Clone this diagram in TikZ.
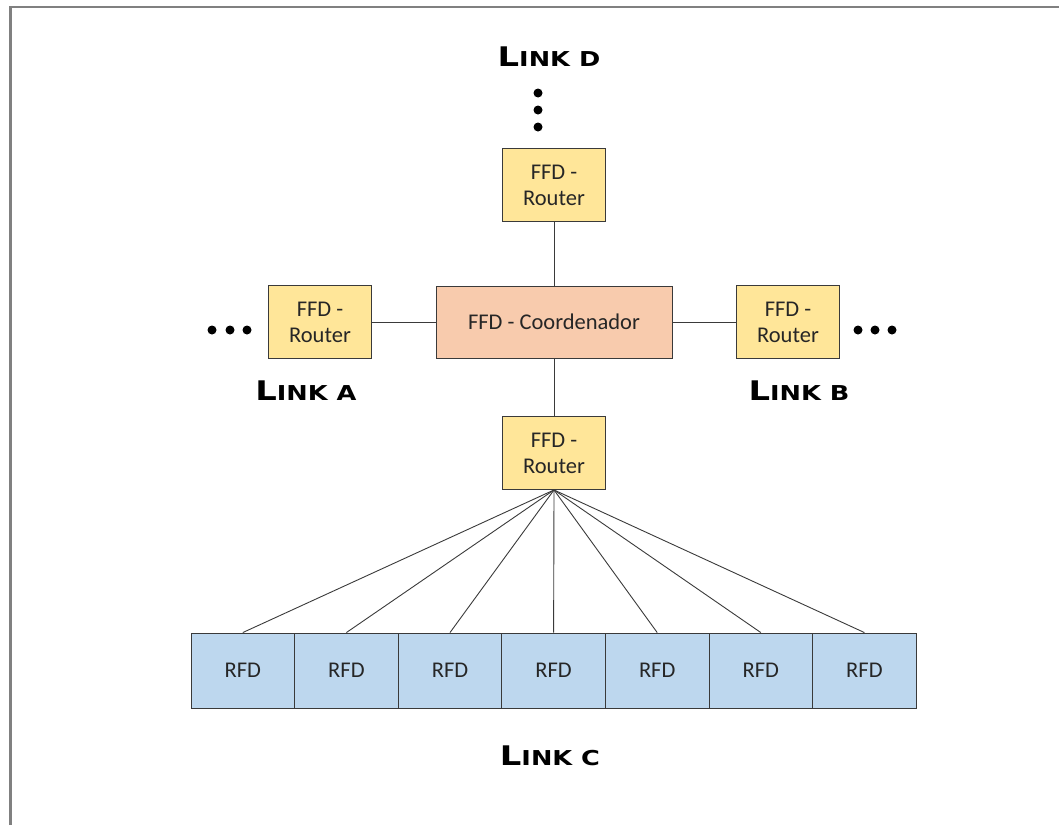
\documentclass[tikz,border=0pt]{standalone}
\usepackage{fontspec}
\setmainfont{Carlito}
\newfontfamily\linkfont[FakeStretch=1.25]{DejaVu Sans}
\definecolor{routerfill}{HTML}{FFE699}
\definecolor{coordfill}{HTML}{F8CBAD}
\definecolor{rfdfill}{HTML}{BDD7EE}
\definecolor{boxline}{HTML}{3A3A3A}
\definecolor{boxtext}{HTML}{262626}
\definecolor{framegray}{HTML}{808080}
\newcommand{\linklabel}[1]{{\linkfont\bfseries{\fontsize{27}{27}\selectfont L}{\fontsize{20.5}{20.5}\selectfont INK #1}}}
\tikzset{
  devbox/.style={draw=boxline,line width=0.9pt,align=center,inner sep=0pt,
    text=boxtext,font=\fontsize{22.5}{26}\selectfont},
  router/.style={devbox,fill=routerfill,minimum width=103,minimum height=73},
  coordbox/.style={devbox,fill=coordfill,minimum width=236,minimum height=72},
  rfdbox/.style={devbox,fill=rfdfill,minimum width=103.6,minimum height=75},
  link/.style={draw=boxline,line width=0.9pt},
}
\begin{document}
\begin{tikzpicture}[x=1pt,y=-1pt]
	\useasboundingbox (0,0) rectangle (1059,825) ;
	\draw[framegray,line width=2.5pt] (10.5,825) -- (10.5,7) -- (1059,7) ;
	% coordinator and routers
	\node[coordbox] (coord) at (554,322) {FFD - Coordenador} ;
	\node[router] (rtop) at (554,185) {FFD -\\Router} ;
	\node[router] (rleft) at (320,322) {FFD -\\Router} ;
	\node[router] (rright) at (788,322) {FFD -\\Router} ;
	\node[router] (rbot) at (554,453) {FFD -\\Router} ;
	\draw[link] (rtop) -- (coord) (rleft) -- (coord) (coord) -- (rright) (coord) -- (rbot) ;
	% end devices
	\foreach \i in {1,...,7}{
		\node[rfdbox] (rfd\i) at ({191+103.6*(\i-0.5)},670.5) {RFD} ;
		\draw[link] (rbot.south) -- (rfd\i.north) ;
	}
	% dots
	\fill (538,93) circle[radius=4.5] (538,110) circle[radius=4.5] (538,127) circle[radius=4.5] ;
	\fill (212,330) circle[radius=4.5] (230,330) circle[radius=4.5] (247,330) circle[radius=4.5] ;
	\fill (858,330) circle[radius=4.5] (875,330) circle[radius=4.5] (892,330) circle[radius=4.5] ;
	% link labels
	\node[anchor=base,inner sep=0] (linkd) at (549,66) {\linklabel{D}} ;
	\node[anchor=base,inner sep=0] (linka) at (306,400) {\linklabel{A}} ;
	\node[anchor=base,inner sep=0] (linkb) at (799,400) {\linklabel{B}} ;
	\node[anchor=base,inner sep=0] (linkc) at (550,765) {\linklabel{C}} ;
\end{tikzpicture}
\end{document}
